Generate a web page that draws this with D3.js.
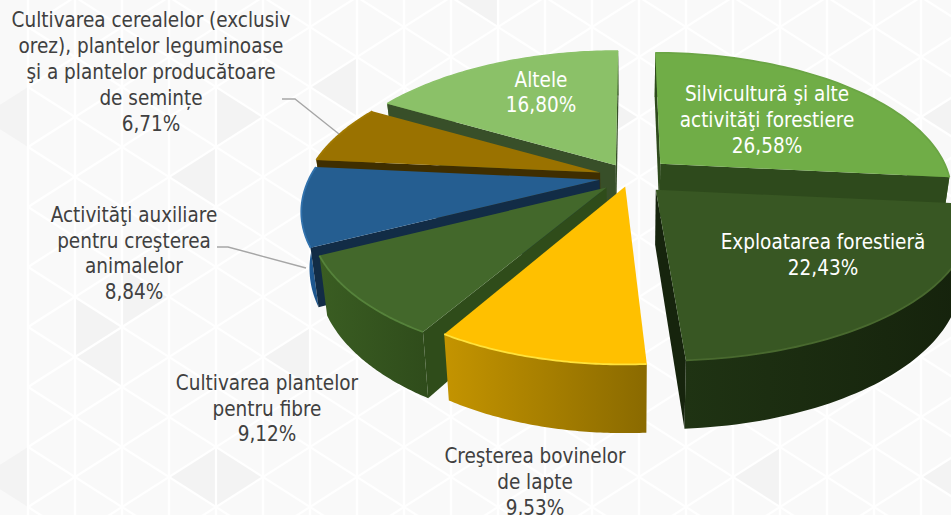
<!DOCTYPE html>
<html><head><meta charset="utf-8">
<script src="https://cdn.jsdelivr.net/npm/d3@7/dist/d3.min.js"></script>
<style>html,body{margin:0;padding:0;background:#fafafa;overflow:hidden}svg{display:block}
text{font-family:"DejaVu Sans";font-stretch:condensed}</style></head><body>
<svg id="c" width="951" height="515"></svg>
<script>
// ---- data ----
const categories=["Silvicultură şi alte activităţi forestiere","Exploatarea forestieră","Creşterea bovinelor de lapte","Cultivarea plantelor pentru fibre","Activităţi auxiliare pentru creşterea animalelor","Cultivarea cerealelor (exclusiv orez), plantelor leguminoase şi a plantelor producătoare de semințe","Altele"];
const values=[26.58,22.43,9.53,9.12,8.84,6.71,16.80];
const valueLabels=["26,58%","22,43%","9,53%","9,12%","8,84%","6,71%","16,80%"];
const labelLines=[["Silvicultură şi alte","activităţi forestiere"],["Exploatarea forestieră"],["Creşterea bovinelor","de lapte"],["Cultivarea plantelor","pentru fibre"],["Activităţi auxiliare","pentru creşterea","animalelor"],["Cultivarea cerealelor (exclusiv","orez), plantelor leguminoase","şi a plantelor producătoare","de semințe"],["Altele"]];
// ---- style / layout ----
const topColors=["#70ad47","#385723","#ffc000","#43682b","#255e91","#9a7200","#8bc168"];
const cutColors=["#2e4a1c","#16240d","#a67c00","#2f4c1a","#122c46","#3f2e00","#384f29"];
const wallFrom=["#4f7a32","#1f3313","#c49400","#3a5d22","#2060a0","#6e5200","#5f8a45"];
const wallTo=["#4f7a32","#15220c","#8a6a00","#2f4c1b","#1c4f80","#6e5200","#5f8a45"];
const rimColors=["#6ba544","#48692f","#ffe23a","#55823a","#3072ad","#a27a00","#8cc26a"];
const explode=[.145,.127,.07,.11,.107,.11,.1];
const scaleU=[1.01,1.05,1,.995,1.01,1.02,1.03];
const scaleV=[1.0,.96,1,.98,1.0,1.0,1.03];
const drawOrder=[6,0,5,4,3,1,2];
const labelCx=[767,823,535,267,134,151,541];
const labelBase=[101,249,463,390,222,27,87];
const labelFill=["#fff","#fff","#404040","#404040","#404040","#404040","#fff"];
const lineStep=[26,26,26,25.5,25.5,26,25];
const leaders=[[[282,99],[295,99],[339,134]],[[217,247],[228,247],[306,268]]];
const grayTri=[[1,327,1],[2,357,-1],[2,297,1],[4,477,-1],[4,477,1],[0,477,-1],[6,357,-1],[16,477,-1],[20,477,-1],[0,117,-1],[4,117,1],[4,177,-1],[7,87,-1],[10,-3,-1],[12,117,1],[20,117,-1]];
const W=951,H=515,cx=630,cy=177,rx=287,ry=138,k=.2,depth=54;

const svg=d3.select("#c");
const defs=svg.append("defs");
defs.append("filter").attr("id","soft").append("feGaussianBlur").attr("stdDeviation",.7);
defs.append("filter").attr("id","soft2").append("feGaussianBlur").attr("stdDeviation",.5);

// background lattice
const bg=svg.append("g");
bg.append("rect").attr("width",W).attr("height",H).attr("fill","#f9f9f9");
const colX=d3.scaleLinear().domain([0,1]).range([28,75]);
const tri=d3.line();
bg.selectAll("path.t").data(grayTri).join("path").attr("fill","#f3f3f3")
  .attr("d",([i,c,d])=>tri([[colX(i),c-30],[colX(i),c+30],[colX(i+d),c]])+"Z");
const lat=bg.append("g").attr("stroke","#fff").attr("stroke-width",2.2).attr("filter","url(#soft2)").attr("fill","none");
d3.range(-1,21).forEach(i=>{
  lat.append("line").attr("x1",colX(i)).attr("x2",colX(i)).attr("y1",0).attr("y2",H);
});
d3.range(-20,40).forEach(j=>{
  const y0=27+60*j;
  lat.append("line").attr("x1",colX(0)).attr("y1",y0).attr("x2",colX(22)).attr("y2",y0+22*30);
  lat.append("line").attr("x1",colX(0)).attr("y1",y0).attr("x2",colX(22)).attr("y2",y0-22*30);
});

// pie
const arcs=d3.pie().sort(null).startAngle(0).endAngle(2*Math.PI)(values);
const proj=(u,v)=>{const s=1/(1-k*v);return [cx+rx*u*s,cy+ry*v*s,s];};
const topPt=(u,v)=>proj(u,v).slice(0,2);
const botPt=(u,v)=>{const p=proj(u,v);return [cx+(p[0]-cx)*.975,p[1]+depth*p[2]];};
const line=d3.line();
const chart=svg.append("g");
drawOrder.forEach(idx=>{
  const a=arcs[idx],mid=(a.startAngle+a.endAngle)/2,e=explode[idx];
  const ou=e*Math.sin(mid),ov=-e*Math.cos(mid);
  const ang=d3.range(0,61).map(t=>a.startAngle+(a.endAngle-a.startAngle)*t/60);
  const rimUV=ang.map(t=>[ou+scaleU[idx]*Math.sin(t),ov-scaleV[idx]*Math.cos(t)]);
  const T=rimUV.map(d=>topPt(...d)),B=rimUV.map(d=>botPt(...d));
  const at=topPt(ou,ov),ab=botPt(ou,ov);
  const g=chart.append("g");
  // outer wall
  const id="w"+idx,xs=T.concat(B).map(d=>d[0]);
  const lg=defs.append("linearGradient").attr("id",id).attr("gradientUnits","userSpaceOnUse")
    .attr("x1",d3.min(xs)).attr("x2",d3.max(xs)).attr("y1",0).attr("y2",0);
  lg.append("stop").attr("offset",0).attr("stop-color",wallFrom[idx]);
  lg.append("stop").attr("offset",1).attr("stop-color",wallTo[idx]);
  g.append("path").attr("fill",`url(#${id})`).attr("d",line(T.concat(B.slice().reverse()))+"Z");
  // radial cut faces that look toward the viewer
  const M=T[30];
  [[T[0],B[0]],[T[60],B[60]]].forEach(([tp,bp])=>{
    const ex=tp[0]-at[0],ey=tp[1]-at[1];
    const side=ex*(M[1]-at[1])-ey*(M[0]-at[0]);
    if(side*ex<0) g.append("path").attr("fill",cutColors[idx]).attr("d",line([at,tp,bp,ab])+"Z");
  });
  // top
  g.append("path").attr("fill",topColors[idx]).attr("d",line([at].concat(T))+"Z");
  // bevel rim
  g.append("path").attr("fill","none").attr("stroke",rimColors[idx]).attr("stroke-width",1.8)
    .attr("filter","url(#soft)").attr("d",line(T));
});

// leaders
svg.append("g").selectAll("path").data(leaders).join("path").attr("d",d=>line(d))
  .attr("fill","none").attr("stroke","#a6a6a6").attr("stroke-width",1.3);

// labels
const lab=svg.append("g").attr("font-size",20.5).attr("text-anchor","middle");
categories.forEach((c,i)=>{
  const t=lab.append("text").attr("fill",labelFill[i]);
  labelLines[i].concat(valueLabels[i]).forEach((s,j)=>{
    t.append("tspan").attr("x",labelCx[i]).attr("y",labelBase[i]+j*lineStep[i]).text(s);
  });
});
</script></body></html>
